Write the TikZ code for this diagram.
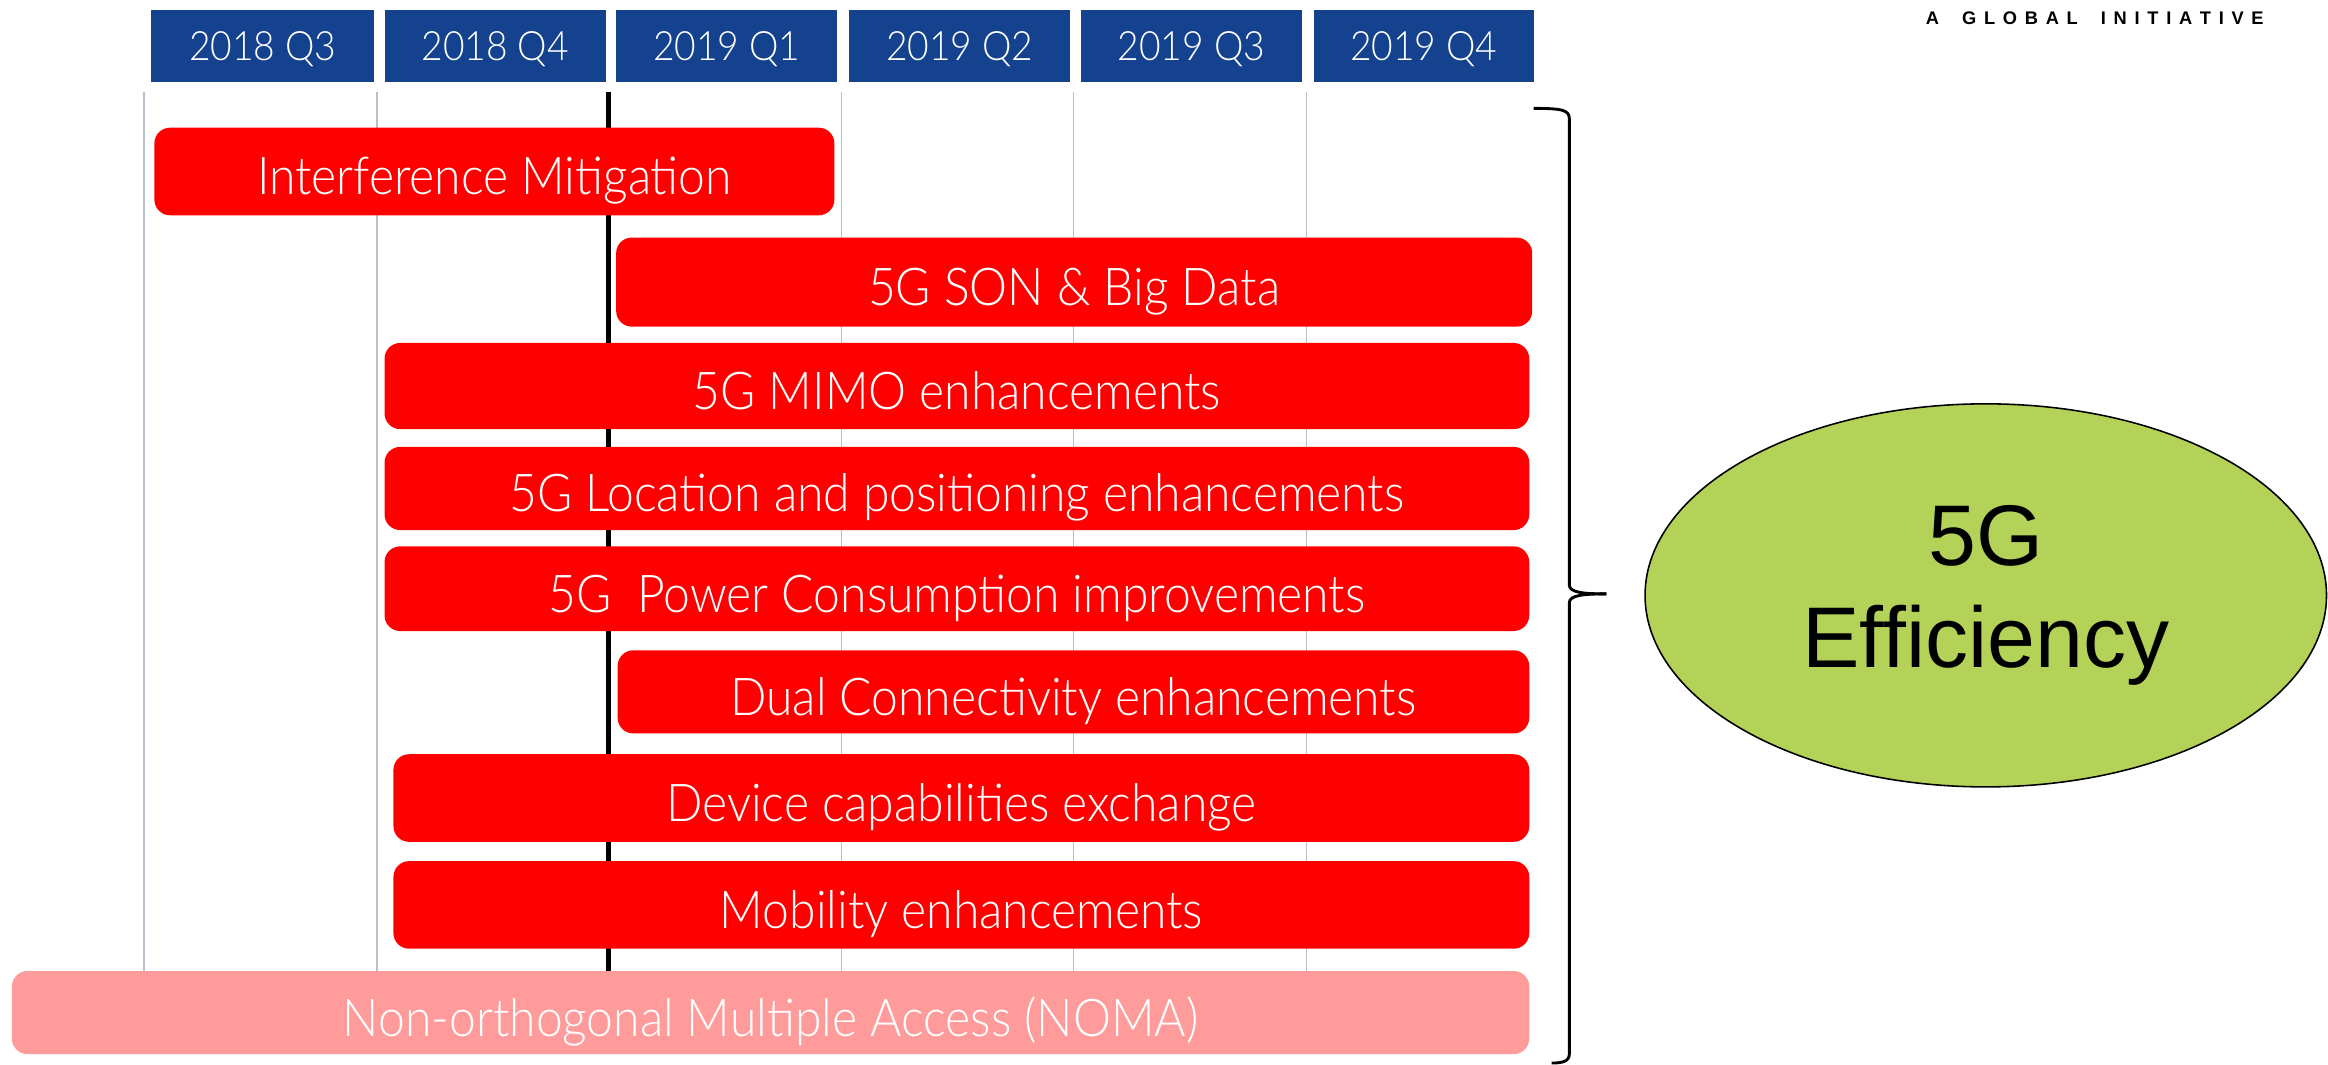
\documentclass[tikz,border=0pt]{standalone}
\usepackage{fontspec}
\usetikzlibrary{shapes.geometric}
\setmainfont{Liberation Sans}
\IfFontExistsTF{Lato Light}{\newfontfamily\lightsans{Lato Light}[FakeStretch=0.92]}{\newfontfamily\lightsans{Lato}[FakeStretch=0.92]}
\newfontfamily\arialf{Liberation Sans}
\definecolor{hdrblue}{HTML}{15428F}
\definecolor{barred}{HTML}{FF0000}
\definecolor{nomapink}{HTML}{FF9B9B}
\definecolor{effgreen}{HTML}{B3D257}
\definecolor{gridgray}{HTML}{B8C0CC}
\newcommand\mybox[7]{\node[#7, minimum width={(#4-#2)*0.02cm}, minimum height={(#5-#3)*0.02cm}] (#1) at ({(#2+#4)/2},{(#3+#5)/2}) {#6};}
\newcommand\lgap{\hfill}
\newcommand\wgap{\hfill\hfill\hfill}
\begin{document}
\begin{tikzpicture}[x=0.02cm,y=-0.02cm,
  hdr/.style={fill=hdrblue, text=white, inner sep=0pt, text height=10.8pt, text depth=0pt, font=\lightsans\fontsize{15.5}{17}\selectfont},
  barbox/.style={fill=barred, text=white, inner sep=0pt, rounded corners=6pt, text height=18pt, text depth=0pt, font=\lightsans\fontsize{20}{22}\selectfont},
  nomabox/.style={barbox, fill=nomapink},
  gridline/.style={draw=gridgray, line width=0.5pt},
  nowline/.style={draw=black, line width=1.8pt},
  bracestyle/.style={draw=black, line width=1.1pt}]
\useasboundingbox (0,0) rectangle (1568,717);
% grid lines
\foreach \gx in {97,254,567,723,880} {\draw[gridline] (\gx,62) -- (\gx,655);}
\draw[nowline] (410,62) -- (410,655);
% headers
\mybox{h1}{102}{7}{252}{55}{2018 Q3}{hdr}
\mybox{h2}{259}{7}{408}{55}{2018 Q4}{hdr}
\mybox{h3}{415}{7}{564}{55}{2019 Q1}{hdr}
\mybox{h4}{572}{7}{721}{55}{2019 Q2}{hdr}
\mybox{h5}{728}{7}{877}{55}{2019 Q3}{hdr}
\mybox{h6}{885}{7}{1033}{55}{2019 Q4}{hdr}
% bars
\mybox{b1}{104}{86}{562}{145}{Interference Mitigation}{barbox}
\mybox{b2}{415}{160}{1032}{220}{5G SON \& Big Data}{barbox}
\mybox{b3}{259}{231}{1030}{289}{5G MIMO enhancements}{barbox}
\mybox{b4}{259}{301}{1030}{357}{5G Location and positioning enhancements}{barbox}
\mybox{b5}{259}{368}{1030}{425}{5G\ \ Power Consumption improvements}{barbox}
\mybox{b6}{416}{438}{1030}{494}{Dual Connectivity enhancements}{barbox}
\mybox{b7}{265}{508}{1030}{567}{Device capabilities exchange}{barbox}
\mybox{b8}{265}{580}{1030}{639}{Mobility enhancements}{barbox}
\mybox{b9}{8}{654}{1030}{710}{Non-orthogonal Multiple Access (NOMA)}{nomabox}
% brace
\draw[bracestyle] (1033,73) .. controls (1052,73) and (1057,74) .. (1057,80) -- (1057,394) .. controls (1057,399) and (1066,400) .. (1082,400);
\draw[bracestyle] (1082,400) .. controls (1066,400) and (1057,401) .. (1057,406) -- (1057,710) .. controls (1057,715) and (1052,716) .. (1045,716);
% ellipse
\node[ellipse, draw=black, line width=0.6pt, fill=effgreen, inner sep=0pt,
  minimum width={459*0.02cm}, minimum height={258*0.02cm}, align=center,
  font=\arialf\fontsize{33}{39}\selectfont] (eff) at (1337.5,401) {5G\\Efficiency};
% tagline
\node[anchor=east, inner sep=0pt, font=\arialf\bfseries\fontsize{7}{8}\selectfont] (tag) at (1525,12.5)
  {\makebox[129.5pt][s]{A\wgap G\lgap L\lgap O\lgap B\lgap A\lgap L\wgap I\lgap N\lgap I\lgap T\lgap I\lgap A\lgap T\lgap I\lgap V\lgap E}};
\end{tikzpicture}
\end{document}
